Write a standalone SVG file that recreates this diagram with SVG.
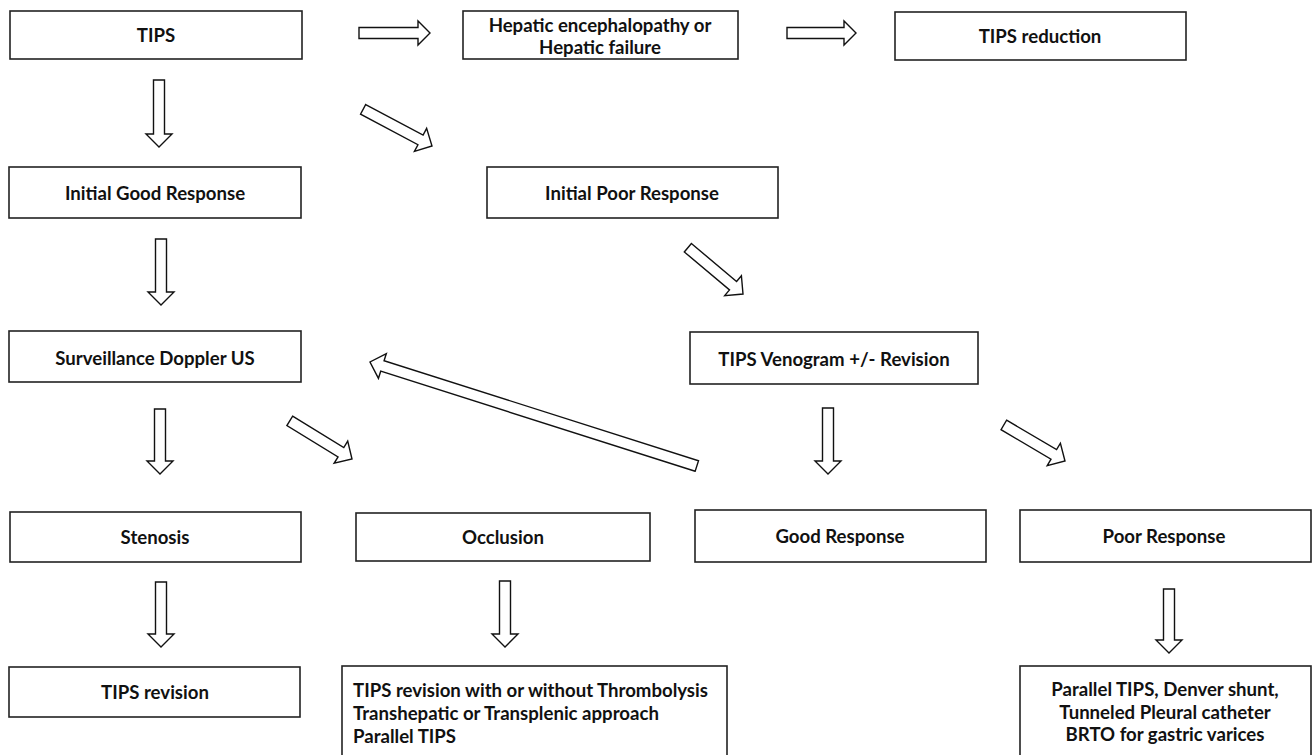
<svg xmlns="http://www.w3.org/2000/svg" width="1312" height="755" viewBox="0 0 1312 755">
<style>
.box{fill:#fff;stroke:#222;stroke-width:1.6}
.t{font-family:Lato,"Liberation Sans",sans-serif;font-weight:bold;font-size:18.6px;fill:#111;text-anchor:middle;dominant-baseline:central}
.tl{text-anchor:start}
.arr{fill:#fff;stroke:#111;stroke-width:1.4;stroke-linejoin:miter}
</style>
<rect width="1312" height="755" fill="#fff"/>
<g id="connectors">
<path class="arr" d="M359,27.5 H418 V21 L430,33 L418,45 V38.5 H359 Z"/>
<path class="arr" d="M787,27.5 H844 V21 L856,33 L844,45 V38.5 H787 Z"/>
<path class="arr" d="M153.5,80 V134 H146 L159,147 L172,134 H164.5 V80 Z"/>
<path class="arr" transform="translate(432,146) rotate(28)" d="M-78,-5.5 H-13 V-13 L0,0 L-13,13 V5.5 H-78 Z"/>
<path class="arr" d="M155.5,239 V292 H148 L161,305 L174,292 H166.5 V239 Z"/>
<path class="arr" transform="translate(743,294) rotate(40)" d="M-72,-5.5 H-13 V-13 L0,0 L-13,13 V5.5 H-72 Z"/>
<path class="arr" transform="translate(370,362) rotate(197.65)" d="M-343,-5.5 H-13 V-13 L0,0 L-13,13 V5.5 H-343 Z"/>
<path class="arr" d="M154.5,409 V461 H147 L160,474 L173,461 H165.5 V409 Z"/>
<path class="arr" transform="translate(352,459) rotate(31.5)" d="M-73,-5.5 H-13 V-13 L0,0 L-13,13 V5.5 H-73 Z"/>
<path class="arr" d="M822.5,408 V461 H815 L828,474 L841,461 H833.5 V408 Z"/>
<path class="arr" transform="translate(1065,461) rotate(30.5)" d="M-71,-5.5 H-13 V-13 L0,0 L-13,13 V5.5 H-71 Z"/>
<path class="arr" d="M155.5,582 V634 H148 L161,647 L174,634 H166.5 V582 Z"/>
<path class="arr" d="M499.5,581 V634 H492 L505,647 L518,634 H510.5 V581 Z"/>
<path class="arr" d="M1163.5,589 V640 H1156 L1169,653 L1182,640 H1174.5 V589 Z"/>
</g>
<g id="n-tips"><rect class="box" x="10" y="11" width="292" height="48"/><text class="t" x="156" y="35">TIPS</text></g>
<g id="n-hepatic"><rect class="box" x="463" y="11" width="275" height="48"/><text class="t" x="600" y="25">Hepatic encephalopathy or</text><text class="t" x="600" y="47">Hepatic failure</text></g>
<g id="n-reduction"><rect class="box" x="895" y="12" width="291" height="48"/><text class="t" x="1040" y="36">TIPS reduction</text></g>
<g id="n-initgood"><rect class="box" x="9" y="167" width="292" height="51"/><text class="t" x="155" y="193">Initial Good Response</text></g>
<g id="n-initpoor"><rect class="box" x="487" y="167" width="291" height="51"/><text class="t" x="632" y="193">Initial Poor Response</text></g>
<g id="n-surv"><rect class="box" x="9" y="331" width="292" height="51"/><text class="t" x="155" y="358">Surveillance Doppler US</text></g>
<g id="n-venogram"><rect class="box" x="690" y="332" width="288" height="52"/><text class="t" x="834" y="359">TIPS Venogram +/- Revision</text></g>
<g id="n-stenosis"><rect class="box" x="10" y="512" width="291" height="50"/><text class="t" x="155" y="537">Stenosis</text></g>
<g id="n-occlusion"><rect class="box" x="356" y="513" width="294" height="48"/><text class="t" x="503" y="537">Occlusion</text></g>
<g id="n-good"><rect class="box" x="695" y="510" width="291" height="52"/><text class="t" x="840" y="536">Good Response</text></g>
<g id="n-poor"><rect class="box" x="1020" y="510" width="291" height="52"/><text class="t" x="1164" y="536">Poor Response</text></g>
<g id="n-revision"><rect class="box" x="9" y="667" width="291" height="50"/><text class="t" x="155" y="692">TIPS revision</text></g>
<g id="n-occrev"><rect class="box" x="342" y="666" width="385" height="95"/><text class="t tl" x="353" y="690">TIPS revision with or without Thrombolysis</text><text class="t tl" x="353" y="713">Transhepatic or Transplenic approach</text><text class="t tl" x="353" y="736">Parallel TIPS</text></g>
<g id="n-parallel"><rect class="box" x="1020" y="666" width="291" height="95"/><text class="t" x="1165" y="689">Parallel TIPS, Denver shunt,</text><text class="t" x="1165" y="712">Tunneled Pleural catheter</text><text class="t" x="1165" y="734">BRTO for gastric varices</text></g>
</svg>
